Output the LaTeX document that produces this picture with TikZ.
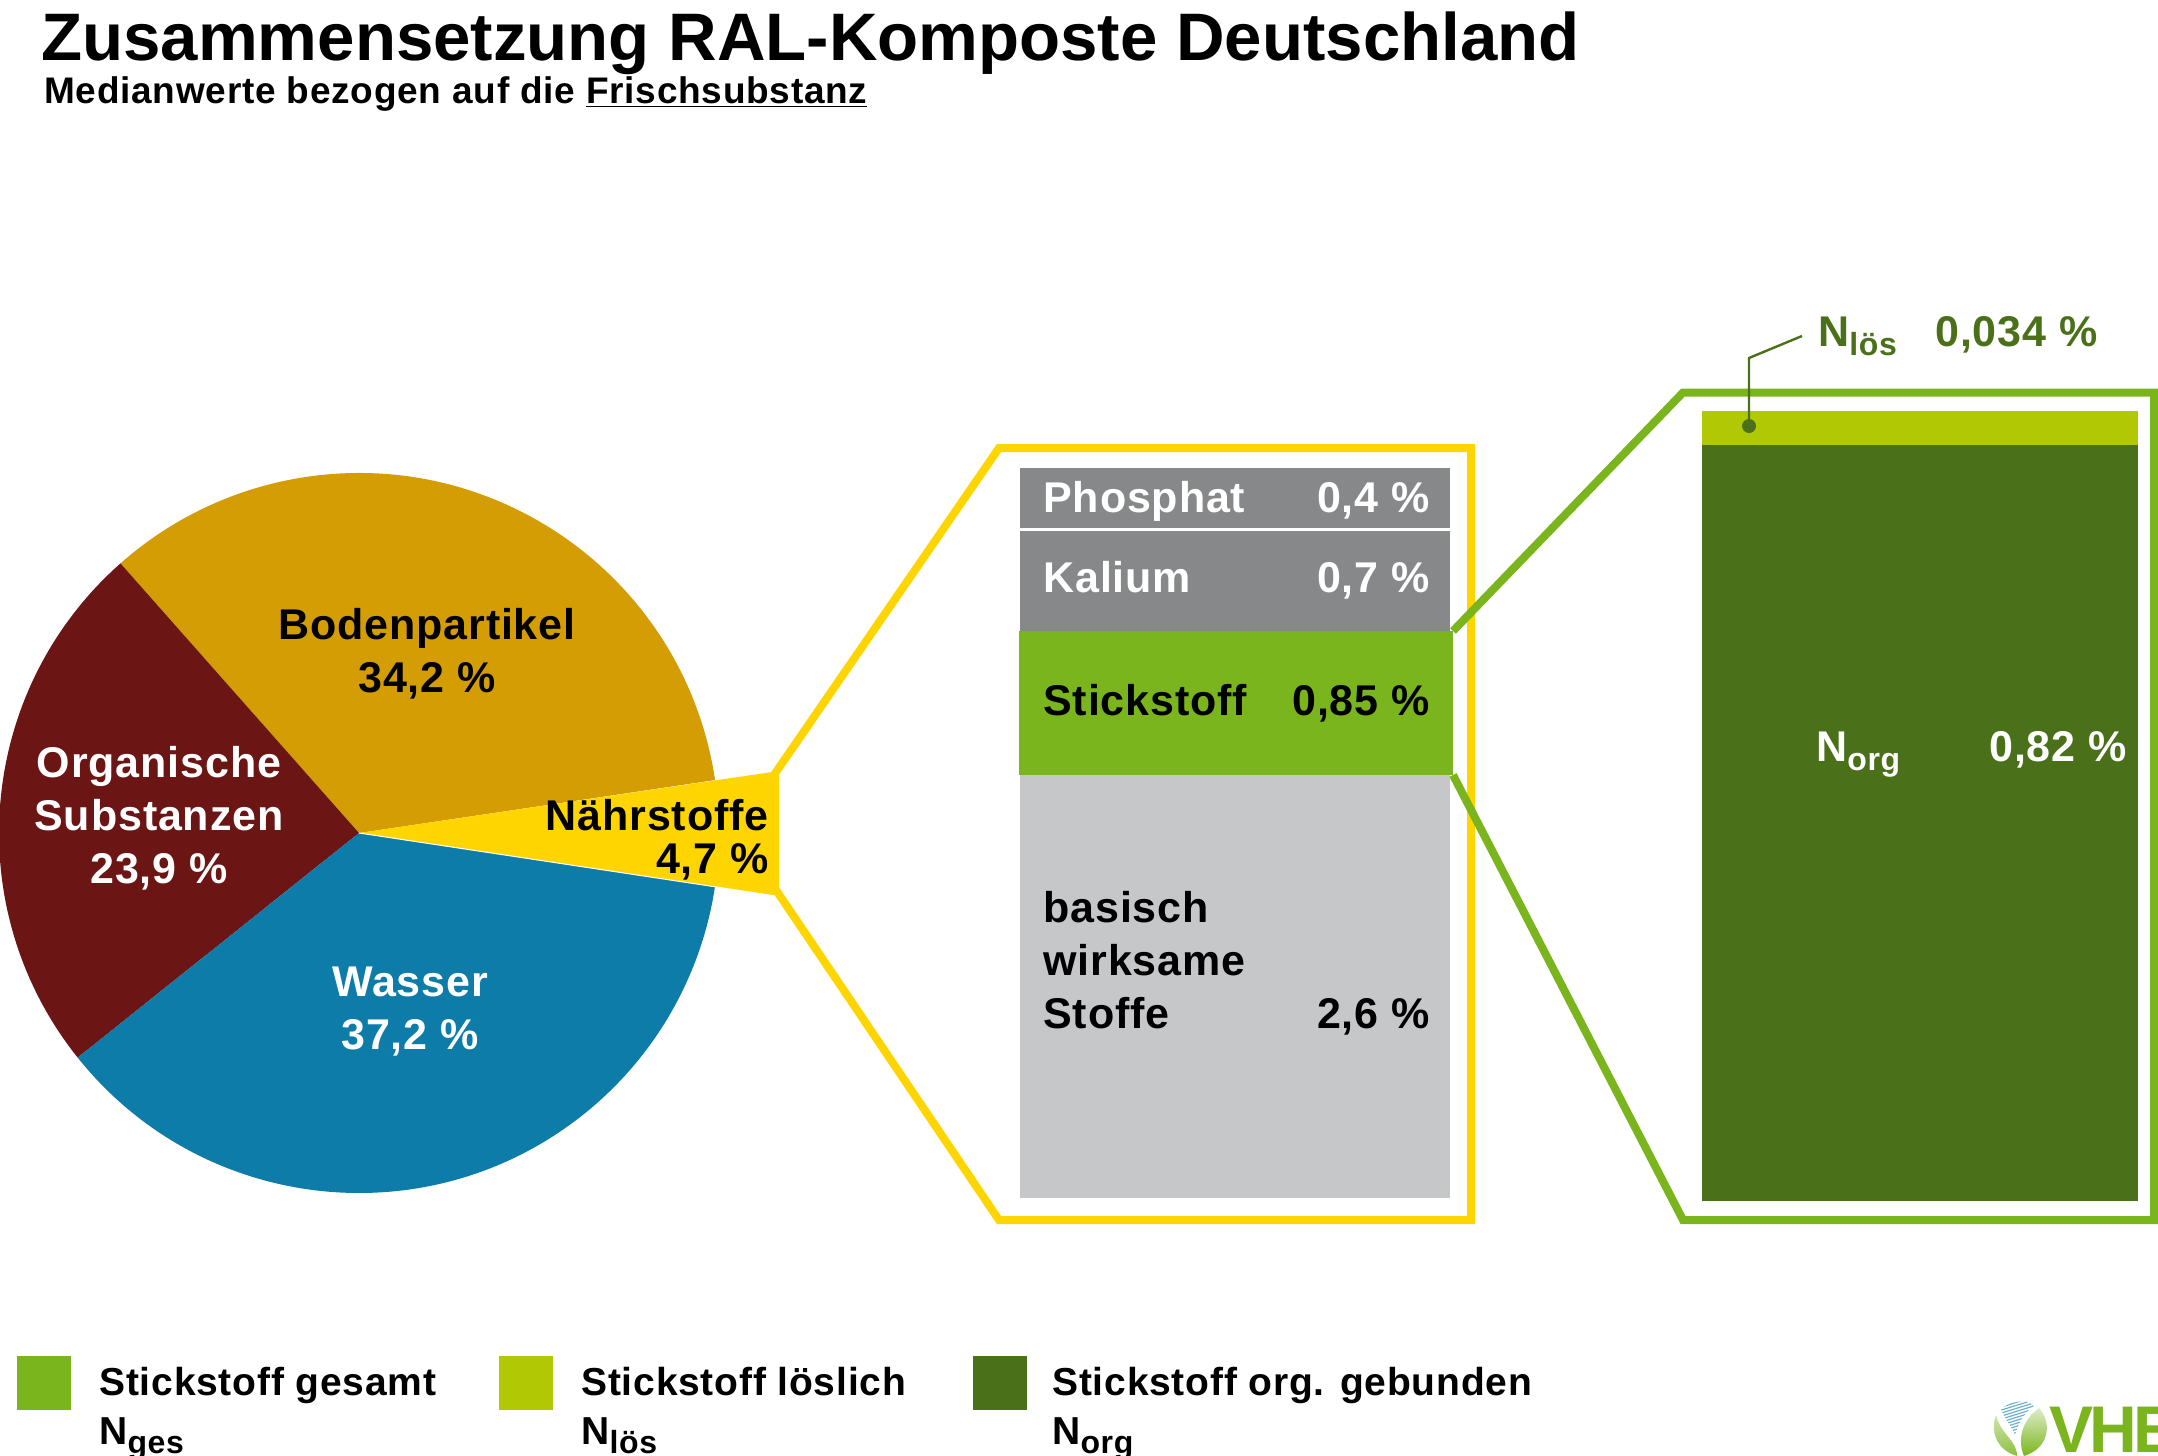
\documentclass[tikz,border=0pt]{standalone}
\usepackage{fontspec}
\setmainfont[LetterSpace=2.0]{Liberation Sans}
\newfontfamily\titlefont{Liberation Sans}
\usetikzlibrary{positioning,calc}
\definecolor{bodengold}{HTML}{D49D04}
\definecolor{organrot}{HTML}{6C1515}
\definecolor{wasserblau}{HTML}{0D7CA8}
\definecolor{naehrgelb}{HTML}{FFD500}
\definecolor{kaligrau}{HTML}{87888A}
\definecolor{basisgrau}{HTML}{C6C7C9}
\definecolor{ngesgruen}{HTML}{7AB51D}
\definecolor{nloesgruen}{HTML}{B1C904}
\definecolor{norggruen}{HTML}{4A7019}
% N with lowered index
\newcommand{\stoffN}[1]{N\raisebox{-4.5pt}{\fontsize{16}{16}\selectfont #1}}
\begin{document}
\begin{tikzpicture}[x=0.5pt, y=-0.5pt, inner sep=0pt,
        lbl/.style={font=\fontsize{21.5}{26.5}\selectfont\bfseries},
        legtext/.style={font=\fontsize{19.5}{25}\selectfont\bfseries, anchor=base west},
        legbox/.style={minimum size=27pt, anchor=north west},
        frame/.style={line width=4pt, miter limit=10}
    ]
        \useasboundingbox (0,0) rectangle (2158,1456);

        % Title
        \node [font=\titlefont\fontsize{33.6}{40}\selectfont\bfseries, anchor=base west] (title) at (41,60) {Zusammensetzung RAL-Komposte Deutschland};
        \node [font=\fontsize{18.5}{22}\selectfont\bfseries, anchor=base west] (subtitle) at (44,103) {Medianwerte bezogen auf die \underline{Frischsubstanz}};

        % Pie
        \coordinate (pie) at (359,833);
        \fill [bodengold] (pie) -- ++(8.46:180pt) arc[start angle=8.46, end angle=131.5, radius=180pt] -- cycle;
        \fill [organrot] (pie) -- ++(131.5:180pt) arc[start angle=131.5, end angle=218.6, radius=180pt] -- cycle;
        \fill [wasserblau] (pie) -- ++(218.6:180pt) arc[start angle=218.6, end angle=351.54, radius=180pt] -- cycle;
        \fill [naehrgelb] (pie) -- (772,772) -- (779,775) -- (779,888) -- (776,896) -- cycle;
        \draw [white, line width=0.5pt] (pie) -- (776,896);

        \node [lbl, align=center] (boden) at (427,654) {Bodenpartikel\\34,2 \%};
        \node [lbl, align=center, white] (organ) at (159,818) {Organische\\Substanzen\\23,9 \%};
        \node [lbl, align=center, white] (wasser) at (410,1012) {Wasser\\37,2 \%};
        \node [lbl, anchor=base east] (naehr) at (769,830) {Nährstoffe};
        \node [lbl, anchor=base east] (naehrwert) at (769,873) {4,7 \%};

        % Yellow frame
        \draw [frame, naehrgelb] (774,775) -- (999,448) -- (1471,448) -- (1471,1220) -- (999,1220) -- (776,890);

        % Bars
        \fill [kaligrau] (1020,468) rectangle (1450,528);
        \fill [kaligrau] (1020,531) rectangle (1450,631);
        \fill [basisgrau] (1020,775) rectangle (1450,1198);
        \fill [ngesgruen] (1019,631) rectangle (1453,775);

        \node [lbl, white, anchor=base west] (phosphat) at (1043,512) {Phosphat};
        \node [lbl, white, anchor=base east] (phosphatwert) at (1430,512) {0,4 \%};
        \node [lbl, white, anchor=base west] (kalium) at (1043,592) {Kalium};
        \node [lbl, white, anchor=base east] (kaliumwert) at (1430,592) {0,7 \%};
        \node [lbl, anchor=base west] (stick) at (1043,715) {Stickstoff};
        \node [lbl, anchor=base east] (stickwert) at (1430,715) {0,85 \%};
        \node [lbl, anchor=west, align=left] (basis) at (1043,960) {basisch\\wirksame\\Stoffe};
        \node [lbl, anchor=base east] (basiswert) at (1430,1028) {2,6 \%};

        % Green frame
        \draw [frame, ngesgruen] (1453,631) -- (1683,392.5) -- (2154,392.5) -- (2154,1220) -- (1683,1220) -- (1453,775);

        % Nitrogen bar
        \fill [nloesgruen] (1702,411) rectangle (2138,445);
        \fill [norggruen] (1702,445) rectangle (2138,1201);
        \node [lbl, white, anchor=base west] (norg) at (1816,761) {\stoffN{org}};
        \node [lbl, white, anchor=base east] (norgwert) at (2127,761) {0,82 \%};
        \node [lbl, norggruen, anchor=base west] (nloes) at (1818,346) {\stoffN{lös}};
        \node [lbl, norggruen, anchor=base west] (nloeswert) at (1935,346) {0,034 \%};

        % Leader
        \node [circle, fill=norggruen, minimum size=7pt] (nloesdot) at (1749,426) {};
        \coordinate (knick) at (1749,358);
        \coordinate (nloesend) at (1802,336);
        \draw [norggruen, line width=1.2pt] (nloesdot.center) -- (knick) -- (nloesend);

        % Legend
        \node [legbox, fill=ngesgruen] (leg1) at (17,1356) {};
        \node [legbox, fill=nloesgruen] (leg2) at (499,1356) {};
        \node [legbox, fill=norggruen] (leg3) at (973,1356) {};
        \node [legtext] (leg1a) at (99,1395) {Stickstoff gesamt};
        \node [legtext] (leg1b) at (99,1444) {\stoffN{ges}};
        \node [legtext] (leg2a) at (581,1395) {Stickstoff löslich};
        \node [legtext] (leg2b) at (581,1444) {\stoffN{lös}};
        \node [legtext] (leg3a) at (1052,1395) {Stickstoff org. gebunden};
        \node [legtext] (leg3b) at (1052,1444) {\stoffN{org}};

        % Logo
        \begin{scope}
            \clip (2001,1409) .. controls (2007,1403) and (2026,1397) .. (2034,1406) .. controls (2024,1412) and (2018,1424) .. (2015,1435) .. controls (2012,1427) and (2004,1418) .. cycle;
            \foreach \i in {0,...,13}
                \draw [wasserblau!60, line width=0.6pt] (1995,1403+\i*3) -- (2040,1389+\i*3);
        \end{scope}
        \path [top color=ngesgruen!35, bottom color=ngesgruen!85] (1996,1415) .. controls (1990,1430) and (1996,1450) .. (2017,1456) .. controls (2017,1440) and (2001,1435) .. cycle;
        \path [top color=ngesgruen!25, bottom color=ngesgruen] (2039,1408) .. controls (2052,1422) and (2050,1448) .. (2024,1456) .. controls (2017,1440) and (2022,1420) .. cycle;
        \node [font=\titlefont\fontsize{33}{33}\selectfont\bfseries, text=ngesgruen, anchor=base west] (vhe) at (2049,1452) {\addfontfeature{LetterSpace=-6}VHE};
\end{tikzpicture}
\end{document}
